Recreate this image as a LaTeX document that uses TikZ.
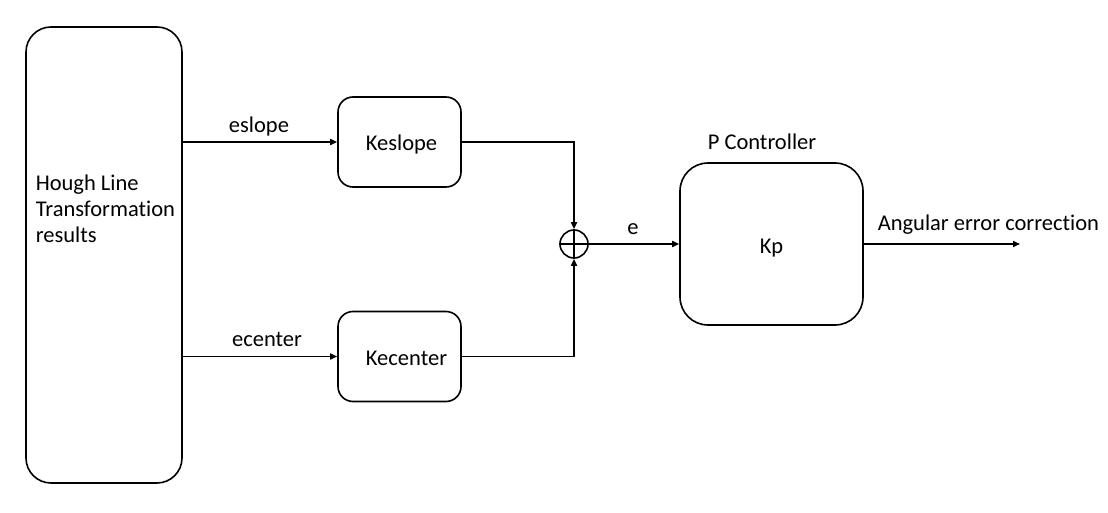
\documentclass[tikz,border=0pt]{standalone}
\usepackage{fontspec}
\setmainfont{Carlito}[Ligatures=NoCommon]
\usetikzlibrary{arrows.meta}
\begin{document}
\begin{tikzpicture}[x=1pt,y=-1pt,line width=1.6pt,
        >={Triangle[length=7pt,width=6pt]},
        font=\fontsize{22.5}{26}\selectfont,
        block/.style={draw,rounded corners=15pt,minimum width=123pt,minimum height=90pt,inner sep=0pt,text height=18pt,text depth=0pt},
        lbl/.style={anchor=base,inner sep=0pt}]
                \useasboundingbox (0,0) rectangle (1108,513);
                \node[draw,rounded corners=25pt,minimum width=156pt,minimum height=456pt] (hough) at (104,255) {};
                \node[anchor=west,align=left,inner sep=0pt] (houghtext) at (35,209) {Hough Line\\Transformation\\results};
                \node[block] (keslope) at (399.5,142) {\hspace{4pt}Keslope};
                \node[block] (kecenter) at (399.5,356.5) {\hspace{14pt}Kecenter};
                \node[draw,circle,minimum size=28pt,inner sep=0pt] (sum) at (574,244) {};
                \node[block,minimum width=183pt,minimum height=162pt,rounded corners=28pt] (pctrl) at (771.5,244) {Kp};
                \coordinate (out) at (1020,244);

                \node[lbl] (eslope) at (259,133) {eslope};
                \node[lbl] (ecenter) at (267,346) {ecenter};
                \node[lbl] (e) at (633,234) {e};
                \node[lbl] (ptitle) at (762,150) {P Controller};
                \node[lbl,anchor=base west] (angcorr) at (877,230) {Angular error correction};

                \draw (sum.north) -- (sum.south); \draw (sum.west) -- (sum.east);
                \draw[->] (keslope.west -| hough.east) -- (keslope.west);
                \draw[->] (kecenter.west -| hough.east) -- (kecenter.west);
                \draw[->] (keslope.east) -| (sum.north); \draw[->] (kecenter.east) -| (sum.south);
                \draw[->] (sum.east) -- (pctrl.west); \draw[->] (pctrl.east) -- (out);
\end{tikzpicture}
\end{document}
